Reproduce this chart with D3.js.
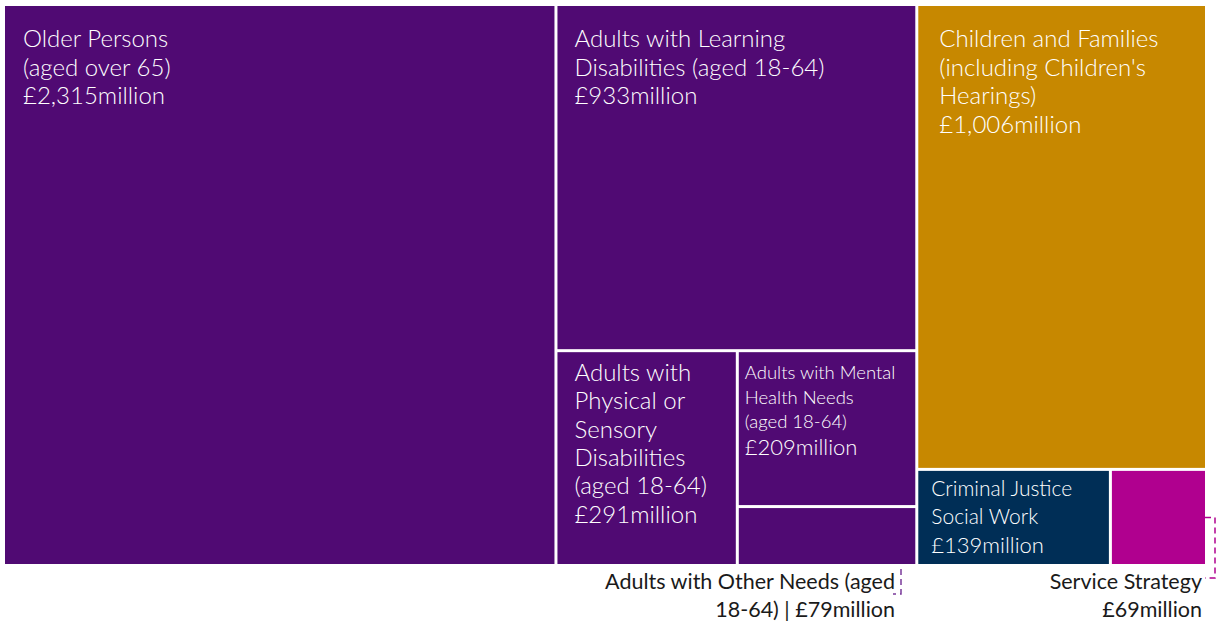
<!DOCTYPE html>
<html>
<head>
<meta charset="utf-8">
<script src="https://cdn.jsdelivr.net/npm/d3@7"></script>
<style>
  body { margin: 0; background: #fff; }
  svg { display: block; font-family: Lato, "Noto Sans", sans-serif; }
</style>
</head>
<body>
<svg id="chart" width="1221" height="626"></svg>
<script>
// spending by service area, £ million
const categories = [
  "Older Persons (aged over 65)",
  "Adults with Learning Disabilities (aged 18-64)",
  "Adults with Physical or Sensory Disabilities (aged 18-64)",
  "Adults with Mental Health Needs (aged 18-64)",
  "Adults with Other Needs (aged 18-64)",
  "Children and Families (including Children's Hearings)",
  "Criminal Justice Social Work",
  "Service Strategy"
];
const values = [2315, 933, 291, 209, 79, 1006, 139, 69];
const labelLines = [
  ["Older Persons", "(aged over 65)"],
  ["Adults with Learning", "Disabilities (aged 18-64)"],
  ["Adults with", "Physical or", "Sensory", "Disabilities", "(aged 18-64)"],
  ["Adults with Mental", "Health Needs", "(aged 18-64)"],
  ["Adults with Other Needs (aged", "18-64) | "],
  ["Children and Families", "(including Children's", "Hearings)"],
  ["Criminal Justice", "Social Work"],
  ["Service Strategy", ""]
];
const colors = ["#500a73", "#500a73", "#500a73", "#500a73", "#500a73", "#c78800", "#002e56", "#b0008f"];

const fmt = d3.format(",");
const leaf = i => ({ i, name: categories[i], value: values[i] });

// nested splits: h = side by side, v = stacked
const tree = { dir: "h", children: [
  { dir: "h", children: [
    leaf(0),
    { dir: "v", children: [
      leaf(1),
      { dir: "h", children: [
        leaf(2),
        { dir: "v", children: [leaf(3), leaf(4)] }
      ]}
    ]}
  ]},
  { dir: "v", children: [
    leaf(5),
    { dir: "h", children: [leaf(6), leaf(7)] }
  ]}
]};

const root = d3.hierarchy(tree).sum(d => d.value || 0);

d3.treemap()
  .size([1200, 558])
  .paddingInner(3)
  .tile((node, x0, y0, x1, y1) =>
    (node.data.dir === "h" ? d3.treemapDice : d3.treemapSlice)(node, x0, y0, x1, y1))(root);

const svg = d3.select("#chart");
const g = svg.append("g").attr("transform", "translate(5,6)");

const leaves = root.leaves();

g.selectAll("rect")
  .data(leaves)
  .join("rect")
  .attr("x", d => d.x0)
  .attr("y", d => d.y0)
  .attr("width", d => d.x1 - d.x0)
  .attr("height", d => d.y1 - d.y0)
  .attr("fill", d => colors[d.data.i]);

// inside labels
const inside = [
  { i: 0, dx: 18, dy: 41, size: 24, lh: 28.5 },
  { i: 1, dx: 17, dy: 41, size: 24, lh: 28.5 },
  { i: 2, dx: 17, dy: 29, size: 24, lh: 28.3 },
  { i: 3, dx: 6, dy: 27, size: 18.5, lh: 24.5, last: 22, lastLh: 27 },
  { i: 5, dx: 21, dy: 41, size: 24, lh: 28.5 },
  { i: 6, dx: 13, dy: 25, size: 21, lh: 28.5, last: 22 }
];

inside.forEach(o => {
  const n = leaves.find(d => d.data.i === o.i);
  const t = g.append("text")
    .attr("fill", "#fff")
    .attr("x", n.x0 + o.dx)
    .attr("y", n.y0 + o.dy)
    .style("font-weight", 300)
    .style("font-size", o.size + "px");
  const lines = labelLines[o.i].concat(["£" + fmt(values[o.i]) + "million"]);
  lines.forEach((l, k) => {
    const isLast = k === lines.length - 1;
    t.append("tspan")
      .attr("x", n.x0 + o.dx)
      .attr("dy", k === 0 ? 0 : (isLast && o.lastLh ? o.lastLh : o.lh))
      .style("font-size", (isLast && o.last ? o.last : o.size) + "px")
      .text(l);
  });
});

// outside labels with dashed brackets
const outside = [
  { i: 4, x: 895, y: 589 },
  { i: 7, x: 1202, y: 589 }
];
outside.forEach(o => {
  const l = labelLines[o.i];
  const t = svg.append("text")
    .attr("text-anchor", "end")
    .attr("fill", "#1a1a1a")
    .style("font-size", "21.5px");
  t.append("tspan").attr("x", o.x).attr("y", o.y).text(l[0]);
  t.append("tspan").attr("x", o.x).attr("y", o.y + 28)
    .text(l[1] + "£" + fmt(values[o.i]) + "million");
});

const other = leaves.find(d => d.data.i === 4);
const strat = leaves.find(d => d.data.i === 7);
const bx = 901, sx = 5 + strat.x1, sy = 6 + (strat.y0 + strat.y1) / 2;

svg.append("path")
  .attr("d", `M${bx},${6 + other.y1 + 5}V594H893`)
  .attr("fill", "none")
  .attr("stroke", "#7a3a9a")
  .attr("stroke-width", 1.5)
  .attr("stroke-dasharray", "6,4");

svg.append("path")
  .attr("d", `M${sx},${sy}H1215V578H1205`)
  .attr("fill", "none")
  .attr("stroke", "#b0008f")
  .attr("stroke-width", 1.5)
  .attr("stroke-dasharray", "6,4");
</script>
</body>
</html>
